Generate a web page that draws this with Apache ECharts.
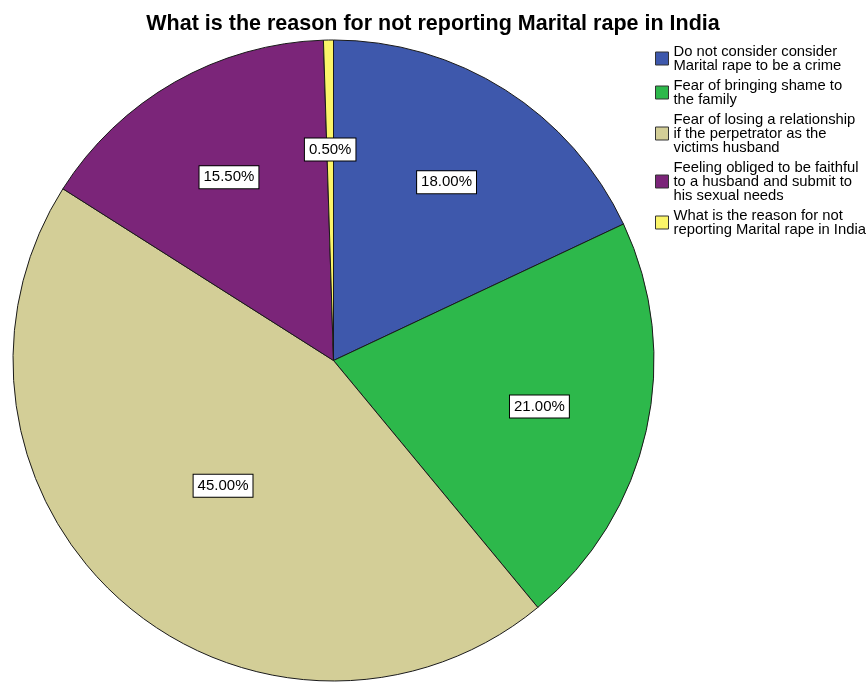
<!DOCTYPE html>
<html>
<head>
<meta charset="utf-8">
<title>What is the reason for not reporting Marital rape in India</title>
<script src="https://cdn.jsdelivr.net/npm/echarts@6/dist/echarts.min.js"></script>
<style>
  html, body { margin: 0; padding: 0; background: #ffffff; }
  #chart { width: 866px; height: 682px; }
</style>
</head>
<body>
<div id="chart"></div>
<script>
// Survey answers (share of respondents, %)
const titleText = 'What is the reason for not reporting Marital rape in India';
const categories = [
  'Do not consider consider\nMarital rape to be a crime',
  'Fear of bringing shame to\nthe family',
  'Fear of losing a relationship\nif the perpetrator as the\nvictims husband',
  'Feeling obliged to be faithful\nto a husband and submit to\nhis sexual needs',
  'What is the reason for not\nreporting Marital rape in India'
];
const percentages = [18.0, 21.0, 45.0, 15.5, 0.5];
const sliceColors = ['#3e58ac', '#2db84b', '#d3ce97', '#7b2579', '#fbf569'];

// Pie geometry and label rings (styling)
const CENTER = [333.5, 360.5];
const RADIUS = 320.5;
const FONT = '"Liberation Sans", Arial, sans-serif';
const labelRingOuter = 208;   // distance of most value boxes from the centre
const labelRingInner = 164;   // the large slice keeps its box closer in
const innerLabelIndex = 2;

const pieData = categories.map((name, i) => ({
  name: name,
  value: percentages[i],
  itemStyle: { color: sliceColors[i] }
}));

const boxLabel = {
  show: true,
  position: 'inside',
  formatter: p => p.value.toFixed(2) + '%',
  fontFamily: FONT,
  fontSize: 15,
  lineHeight: 16,
  color: '#000',
  backgroundColor: '#ffffff',
  borderColor: '#000000',
  borderWidth: 1,
  padding: [2, 4, 4, 4]
};

// Transparent ring used only to place the value boxes
function labelRing(ring, useInner) {
  return {
    type: 'pie',
    silent: true,
    center: CENTER,
    radius: [ring - 10, ring + 10],
    startAngle: 90,
    clockwise: true,
    z: 5,
    legendHoverLink: false,
    itemStyle: { color: 'rgba(0,0,0,0)', borderWidth: 0 },
    labelLine: { show: false },
    emphasis: { disabled: true },
    data: categories.map((name, i) => ({
      name: name,
      value: percentages[i],
      label: { show: (i === innerLabelIndex) === useInner }
    })),
    label: boxLabel
  };
}

const chart = echarts.init(document.getElementById('chart'), null, { renderer: 'canvas' });
chart.setOption({
  backgroundColor: '#ffffff',
  animation: false,
  title: {
    text: titleText,
    left: 'center',
    top: 8,
    textStyle: { fontFamily: FONT, fontSize: 21.5, fontWeight: 'bold', color: '#000' }
  },
  legend: {
    orient: 'vertical',
    left: 655,
    top: 44,
    padding: 0,
    itemWidth: 13,
    itemHeight: 13,
    itemGap: 5,
    icon: 'rect',
    selectedMode: false,
    data: categories,
    itemStyle: { borderColor: '#333333', borderWidth: 1 },
    textStyle: { fontFamily: FONT, fontSize: 14.8, lineHeight: 14, color: '#000' }
  },
  series: [
    {
      type: 'pie',
      name: 'reasons',
      center: CENTER,
      radius: RADIUS,
      startAngle: 90,
      clockwise: true,
      silent: true,
      itemStyle: { borderColor: '#1a1a1a', borderWidth: 1 },
      label: { show: false },
      labelLine: { show: false },
      data: pieData
    },
    labelRing(labelRingOuter, false),
    labelRing(labelRingInner, true)
  ]
});
</script>
</body>
</html>
